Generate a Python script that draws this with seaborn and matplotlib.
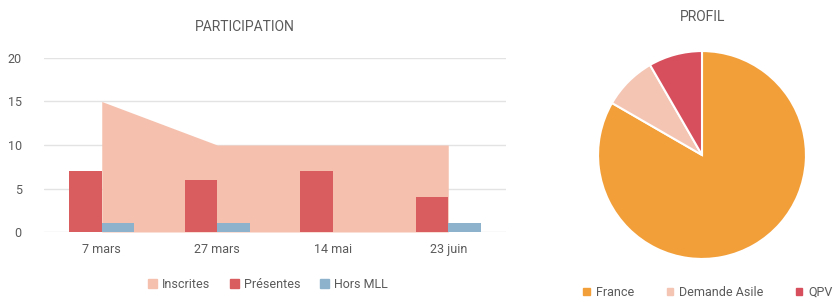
import matplotlib
matplotlib.use("Agg")
import matplotlib.pyplot as plt
import seaborn as sns
import pandas as pd
from matplotlib.patches import Patch

dates = ["7 mars", "27 mars", "14 mai", "23 juin"]
inscrites = [15, 10, 10, 10]
presentes = [7, 6, 7, 4]
hors_mll = [1, 1, 0, 1]

profil_labels = ["France", "Demande Asile", "QPV"]
profil_values = [10, 1, 1]

c_insc = "#F5C1AE"
c_pres = "#D95C5E"
c_hors = "#8DB3CC"
c_france = "#F29F3A"
c_asile = "#F4C5B3"
c_qpv = "#D74F5C"
txt = "#5a5a5a"

sns.set_theme(style="white")
plt.rcParams['font.family'] = ['Roboto', 'DejaVu Sans']

fig = plt.figure(figsize=(8.35, 3.0), dpi=100)
fig.patch.set_facecolor("white")

# participation chart
ax = fig.add_axes([44 / 835, 68 / 300, 462 / 835, 174 / 300])
ax.fill_between(range(len(dates)), inscrites, 0, color=c_insc, linewidth=0, zorder=1)

df = pd.DataFrame({
    "date": dates * 2,
    "val": presentes + hors_mll,
    "serie": ["Présentes"] * 4 + ["Hors MLL"] * 4,
})
sns.barplot(data=df, x="date", y="val", hue="serie", palette=[c_pres, c_hors],
            width=0.56, ax=ax, legend=False, zorder=2, saturation=1, linewidth=0)
ax.set_xlim(-0.5, 3.5)
ax.set_ylim(0, 20)
ax.set_yticks([0, 5, 10, 15, 20])
ax.yaxis.grid(True, color="#e3e3e3", linewidth=1)
ax.set_axisbelow(True)
for s in ax.spines.values():
    s.set_visible(False)
ax.set_xlabel("")
ax.set_ylabel("")
ax.tick_params(axis="both", colors=txt, labelsize=9, length=0)
ax.tick_params(axis="y", pad=16)
ax.tick_params(axis="x", pad=8)
fig.text(245 / 835, 1 - 27 / 300, "PARTICIPATION", ha="center", va="center",
         color=txt, fontsize=10)
handles = [Patch(color=c_insc, label="Inscrites"),
           Patch(color=c_pres, label="Présentes"),
           Patch(color=c_hors, label="Hors MLL")]
fig.legend(handles=handles, loc="center", bbox_to_anchor=(268 / 835, 1 - 284 / 300),
           ncol=3, frameon=False, fontsize=9, handlelength=0.7, handleheight=0.7,
           columnspacing=1.6, handletextpad=0.4, labelcolor=txt)

# profil pie
ax2 = fig.add_axes([597 / 835, 40 / 300, 210 / 835, 210 / 300])
ax2.pie(profil_values, colors=[c_france, c_asile, c_qpv], startangle=90,
        counterclock=False, wedgeprops=dict(edgecolor="white", linewidth=1.5))
ax2.set_xlim(-1.01, 1.01)
ax2.set_ylim(-1.01, 1.01)
ax2.set_aspect("equal")
fig.text(703 / 835, 1 - 17 / 300, "PROFIL", ha="center", va="center",
         color=txt, fontsize=10)
handles2 = [Patch(color=c, label=l) for c, l in zip([c_france, c_asile, c_qpv], profil_labels)]
fig.legend(handles=handles2, loc="center", bbox_to_anchor=(708 / 835, 1 - 292 / 300),
           ncol=3, frameon=False, fontsize=9, handlelength=0.5, handleheight=0.5,
           columnspacing=2.6, handletextpad=0.5, labelcolor=txt)

fig.savefig("out.png", dpi=100)
